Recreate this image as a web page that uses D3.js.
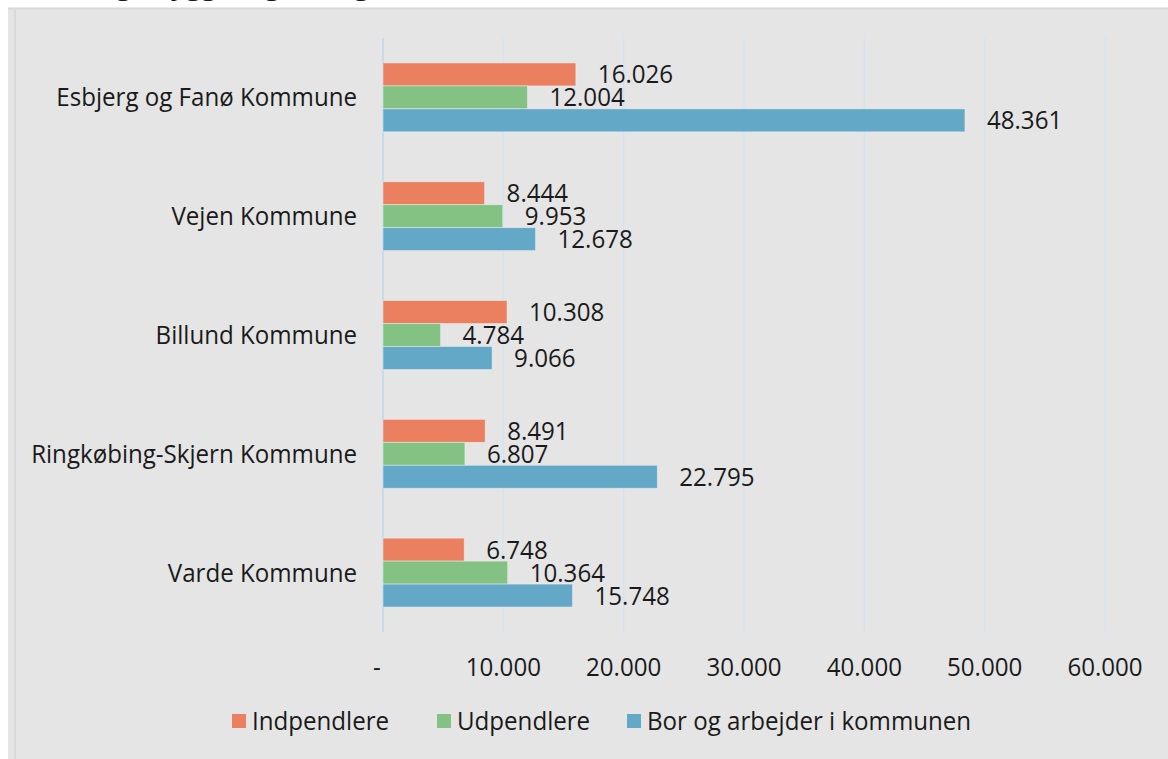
<!DOCTYPE html>
<html>
<head>
<meta charset="utf-8">
<script src="https://cdn.jsdelivr.net/npm/d3@7"></script>
<style>
  body { margin: 0; background: #fff; }
  text { font-family: "Open Sans", sans-serif; fill: #1a1a1a; }
</style>
</head>
<body>
<svg id="chart" width="1168" height="759"></svg>
<script>
// Pendling per kommune - grouped horizontal bars

var kommuner = ["Esbjerg og Fanø Kommune", "Vejen Kommune", "Billund Kommune",
    "Ringkøbing-Skjern Kommune", "Varde Kommune"];
var serier = ["Indpendlere", "Udpendlere", "Bor og arbejder i kommunen"];
var indpendlere = [16026, 8444, 10308, 8491, 6748];
var udpendlere = [12004, 9953, 4784, 6807, 10364];
var borOgArbejder = [48361, 12678, 9066, 22795, 15748];
var tickValues = [0, 10000, 20000, 30000, 40000, 50000, 60000];
var tickLabels = ["-", "10.000", "20.000", "30.000", "40.000", "50.000", "60.000"];

var svg = d3.select("#chart"),
    width = +svg.attr("width"),
    height = +svg.attr("height");

var squish = 0.965; // text in the picture is a bit narrow
var fontSize = 25;

var colors = d3.scaleOrdinal()
    .domain(serier)
    .range(["#eb8060", "#84c283", "#64a8c8"]);

var rows = kommuner.map(function (k, i) {
    return {kommune: k, values: [indpendlere[i], udpendlere[i], borOgArbejder[i]]};
});

function fmt(v) {
    return d3.format(",")(v).replace(/,/g, ".");
}

function squishText(sel, x, y) {
    return sel.attr("transform", "translate(" + x + "," + y + ") scale(" + squish + ",1)");
}

// title (cut off at the top of the picture)
svg.append("text")
    .attr("x", 14)
    .attr("y", -5)
    .attr("font-size", "27px")
    .attr("font-weight", "bold")
    .text("Pendling i bygge- og anlægsbranchen, 2019");

// panel
svg.append("rect")
    .attr("x", 8).attr("y", 8)
    .attr("width", width - 8).attr("height", height - 8)
    .attr("fill", "#e5e5e5");
svg.append("line")
    .attr("x1", 8).attr("x2", width).attr("y1", 8.5).attr("y2", 8.5)
    .attr("stroke", "#d8d8d8").attr("stroke-width", 2);
svg.append("line")
    .attr("x1", 15).attr("x2", 15).attr("y1", 9).attr("y2", height)
    .attr("stroke", "#dadada").attr("stroke-width", 2);

var x = d3.scaleLinear()
    .domain([0, 60000])
    .range([383, 1105]);

var y = d3.scaleBand()
    .domain(kommuner)
    .range([38, 632])
    .paddingInner(0.42)
    .paddingOuter(0.21);

var ySub = d3.scaleBand()
    .domain(serier)
    .range([0, y.bandwidth()]);

// gridlines
svg.append("g")
    .attr("class", "grid")
    .selectAll("line")
    .data(tickValues)
    .enter().append("line")
    .attr("x1", function (d) { return x(d); })
    .attr("x2", function (d) { return x(d); })
    .attr("y1", 38)
    .attr("y2", 632)
    .attr("stroke", function (d) { return d === 0 ? "#c6dcec" : "#d5e3ee"; })
    .attr("stroke-width", function (d) { return d === 0 ? 2 : 1.5; });

// bars
var group = svg.append("g")
    .selectAll(".row")
    .data(rows)
    .enter().append("g")
    .attr("class", "row")
    .attr("transform", function (d) { return "translate(0," + y(d.kommune) + ")"; });

group.selectAll("rect")
    .data(function (d) { return d.values.map(function (v, i) { return {serie: serier[i], value: v}; }); })
    .enter().append("rect")
    .attr("x", x(0))
    .attr("y", function (d) { return ySub(d.serie); })
    .attr("width", function (d) { return x(d.value) - x(0); })
    .attr("height", ySub.bandwidth())
    .attr("fill", function (d) { return colors(d.serie); })
    .attr("stroke", "#f2f2f2")
    .attr("stroke-opacity", 0.6)
    .attr("stroke-width", 0.8);

// value labels
group.selectAll(".val")
    .data(function (d) { return d.values.map(function (v, i) { return {serie: serier[i], value: v}; }); })
    .enter().append("text")
    .attr("class", "val")
    .attr("font-size", fontSize + "px")
    .attr("dy", "0.36em")
    .each(function (d) {
        squishText(d3.select(this), x(d.value) + 22, ySub(d.serie) + ySub.bandwidth() / 2);
    })
    .text(function (d) { return fmt(d.value); });

// category labels
svg.append("g")
    .selectAll("text")
    .data(kommuner)
    .enter().append("text")
    .attr("font-size", fontSize + "px")
    .attr("text-anchor", "end")
    .attr("dy", "0.36em")
    .each(function (d) {
        squishText(d3.select(this), 357, y(d) + y.bandwidth() / 2);
    })
    .text(function (d) { return d; });

// x tick labels
svg.append("g")
    .selectAll("text")
    .data(tickValues)
    .enter().append("text")
    .attr("font-size", fontSize + "px")
    .attr("text-anchor", "middle")
    .attr("dy", "0.36em")
    .each(function (d, i) {
        squishText(d3.select(this), d === 0 ? x(d) - 6 : x(d), 667);
    })
    .text(function (d, i) { return tickLabels[i]; });

// legend
var legendX = [232, 437, 627];
var legend = svg.append("g")
    .selectAll("g")
    .data(serier)
    .enter().append("g")
    .attr("transform", function (d, i) { return "translate(" + legendX[i] + ",721)"; });

legend.append("rect")
    .attr("x", 0).attr("y", -7)
    .attr("width", 14).attr("height", 14)
    .attr("fill", function (d) { return colors(d); });

legend.append("text")
    .attr("font-size", fontSize + "px")
    .attr("dy", "0.36em")
    .each(function () { squishText(d3.select(this), 20, 0); })
    .text(function (d) { return d; });
</script>
</body>
</html>
